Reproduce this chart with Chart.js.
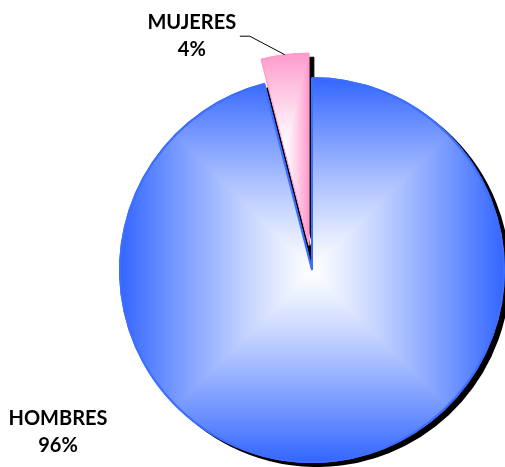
<!DOCTYPE html>
<html><head><meta charset="utf-8">
<style>html,body{margin:0;padding:0;background:#fff;overflow:hidden}canvas{display:block}</style>
<script src="https://cdn.jsdelivr.net/npm/chart.js@4.4.1/dist/chart.umd.min.js"></script>
</head><body>
<canvas id="c" width="505" height="467"></canvas>
<script>
const categories = ['HOMBRES', 'MUJERES'];
const percentages = [96, 4];

function sectorBox(arc) {
  const R = arc.outerRadius, a0 = arc.startAngle, a1 = arc.endAngle;
  const pts = [[arc.x, arc.y], [arc.x + R * Math.cos(a0), arc.y + R * Math.sin(a0)], [arc.x + R * Math.cos(a1), arc.y + R * Math.sin(a1)]];
  for (let k = -8; k <= 8; k++) {
    const a = k * Math.PI / 2;
    if (a > a0 + 1e-9 && a < a1 - 1e-9) pts.push([arc.x + R * Math.cos(a), arc.y + R * Math.sin(a)]);
  }
  const xs = pts.map(p => p[0]), ys = pts.map(p => p[1]);
  return {x0: Math.min(...xs), x1: Math.max(...xs), y0: Math.min(...ys), y1: Math.max(...ys)};
}

function rectGradientPattern(ctx, w, h, box, rgb, gamma) {
  const cv = document.createElement('canvas');
  cv.width = w; cv.height = h;
  const c2 = cv.getContext('2d');
  const img = c2.createImageData(w, h);
  const cx = (box.x0 + box.x1) / 2, cy = (box.y0 + box.y1) / 2;
  const hw = Math.max(1, (box.x1 - box.x0) / 2), hh = Math.max(1, (box.y1 - box.y0) / 2);
  for (let y = 0; y < h; y++) {
    for (let x = 0; x < w; x++) {
      const t = Math.min(1, Math.max(Math.abs(x + 0.5 - cx) / hw, Math.abs(y + 0.5 - cy) / hh));
      const f = Math.pow(t, gamma);
      const i = (y * w + x) * 4;
      img.data[i] = Math.round(255 + (rgb[0] - 255) * f);
      img.data[i + 1] = Math.round(255 + (rgb[1] - 255) * f);
      img.data[i + 2] = Math.round(255 + (rgb[2] - 255) * f);
      img.data[i + 3] = 255;
    }
  }
  c2.putImageData(img, 0, 0);
  return ctx.createPattern(cv, 'no-repeat');
}

const pieStylePlugin = {
  id: 'pieStyle',
  beforeDatasetDraw(chart, args, opts) {
    const ctx = chart.ctx;
    const arcs = args.meta.data;
    arcs.forEach((arc, i) => {
      const box = sectorBox(arc);
      const pat = rectGradientPattern(ctx, chart.width, chart.height, box, opts.edgeColors[i], opts.gamma);
      arc.options = Object.assign({}, arc.options, {backgroundColor: pat});
    });
    const shift = (arc, i) => {
      const d = opts.explode[i] || 0;
      const mid = (arc.startAngle + arc.endAngle) / 2;
      return [Math.cos(mid) * d, Math.sin(mid) * d];
    };
    arcs.forEach((arc, i) => {
      const [dx, dy] = shift(arc, i);
      ctx.save();
      ctx.translate(dx, dy);
      ctx.shadowColor = '#000';
      ctx.shadowOffsetX = opts.shadow[0];
      ctx.shadowOffsetY = opts.shadow[1];
      ctx.shadowBlur = 0;
      arc.draw(ctx, chart.chartArea);
      ctx.restore();
    });
    arcs.forEach((arc, i) => {
      const [dx, dy] = shift(arc, i);
      ctx.save();
      ctx.translate(dx, dy);
      arc.draw(ctx, chart.chartArea);
      ctx.restore();
    });
    return false;
  },
  afterDatasetsDraw(chart, args, opts) {
    const ctx = chart.ctx;
    const arcs = chart.getDatasetMeta(0).data;
    ctx.save();
    ctx.fillStyle = '#000';
    ctx.strokeStyle = '#000';
    ctx.lineWidth = 1;
    ctx.font = opts.font;
    ctx.textAlign = 'center';
    ctx.textBaseline = 'middle';
    arcs.forEach((arc, i) => {
      const pl = opts.labels[i];
      const d = opts.explode[i] || 0;
      const mid = (arc.startAngle + arc.endAngle) / 2;
      const cx = arc.x + Math.cos(mid) * d, cy = arc.y + Math.sin(mid) * d;
      let tx, ty;
      if (pl.leader) {
        const ax = cx + Math.cos(mid) * arc.outerRadius, ay = cy + Math.sin(mid) * arc.outerRadius;
        const ex = ax + pl.elbow[0], ey = ay + pl.elbow[1];
        const fx = ax + pl.end[0], fy = ay + pl.end[1];
        ctx.beginPath();
        ctx.moveTo(ax, ay); ctx.lineTo(ex, ey); ctx.lineTo(fx, fy);
        ctx.stroke();
        tx = fx + pl.text[0]; ty = fy + pl.text[1];
      } else {
        tx = arc.x + pl.text[0]; ty = arc.y + pl.text[1];
      }
      ctx.fillText(categories[i], tx, ty);
      ctx.fillText(percentages[i] + '%', tx, ty + opts.lineGap);
    });
    ctx.restore();
  }
};

new Chart(document.getElementById('c'), {
  type: 'pie',
  data: {
    labels: categories,
    datasets: [{
      data: percentages,
      backgroundColor: ['#3366FF', '#FF99CC'],
      borderColor: ['#3D6EFF', '#FF99CC'],
      borderWidth: [2, 1]
    }]
  },
  options: {
    responsive: false,
    animation: false,
    events: [],
    radius: 192,
    layout: {padding: {left: 119, right: 0, top: 77, bottom: 4}},
    plugins: {
      legend: {display: false},
      tooltip: {enabled: false},
      pieStyle: {
        explode: [0, 25],
        shadow: [5, 4],
        gamma: 1.15,
        edgeColors: [[51, 102, 255], [255, 153, 204]],
        font: 'bold 20px Lato',
        lineGap: 27,
        labels: [
          {text: [-254, 149]},
          {leader: true, elbow: [-35, -18.5], end: [-45, -18.5], text: [-48, -14]}
        ]
      }
    }
  },
  plugins: [pieStylePlugin]
});
</script>
</body></html>
